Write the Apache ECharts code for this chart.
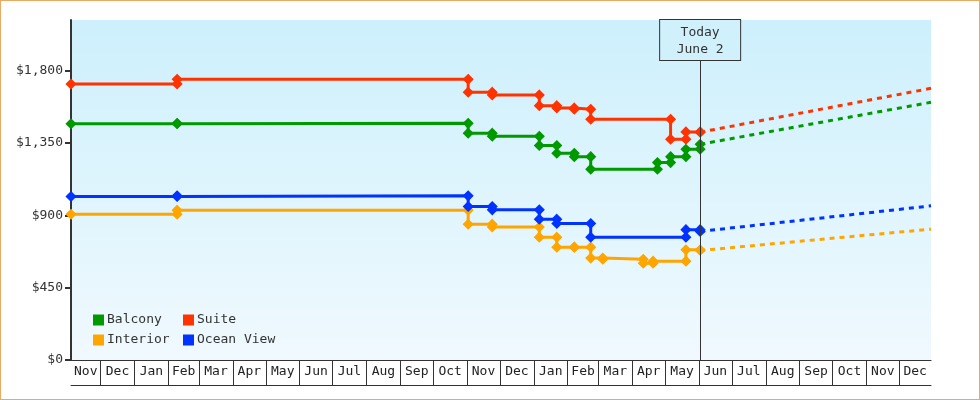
<!DOCTYPE html>
<html>
<head>
<meta charset="utf-8">
<title>Cabin prices</title>
<script src="https://cdn.jsdelivr.net/npm/echarts@6/dist/echarts.min.js"></script>
<style>
html, body { margin: 0; padding: 0; background: #fff; }
#wrap { position: relative; width: 980px; height: 400px; }
#chart { position: absolute; left: 0; top: 0; width: 980px; height: 400px; }
#frame { position: absolute; left: 0; top: 0; width: 980px; height: 400px; box-sizing: border-box; border: 1px solid #e9aa66; pointer-events: none; }
</style>
</head>
<body>
<div id="wrap"><div id="chart"></div><div id="frame"></div></div>
<script>
// axis range and the "today" marker
const AXIS_START = '2021-11-04';
const AXIS_END = '2023-12-30';
const TODAY = '2023-06-02';
const TODAY_LABEL = 'Today\nJune 2';
const TODAY_LINE_TOP = 1866;
const Y_MAX = 2115;

const monthNames = ['Jan', 'Feb', 'Mar', 'Apr', 'May', 'Jun', 'Jul', 'Aug', 'Sep', 'Oct', 'Nov', 'Dec'];
const yTicks = [0, 450, 900, 1350, 1800];

// price history: [date the price took effect, price]
const balcony = [
    ['2021-11-04', 1470], ['2022-02-09', 1472], ['2022-11-02', 1411], ['2022-11-24', 1392],
    ['2023-01-06', 1334], ['2023-01-22', 1286], ['2023-02-07', 1265], ['2023-02-22', 1187],
    ['2023-04-24', 1228], ['2023-05-06', 1265], ['2023-05-20', 1311], ['2023-06-02', 1342]
];
const suite = [
    ['2021-11-04', 1717], ['2022-02-09', 1746], ['2022-11-02', 1666], ['2022-11-24', 1649],
    ['2023-01-06', 1582], ['2023-01-22', 1568], ['2023-02-07', 1560], ['2023-02-22', 1498],
    ['2023-05-06', 1373], ['2023-05-20', 1419], ['2023-06-02', 1417]
];
const interior = [
    ['2021-11-04', 907], ['2022-02-09', 932], ['2022-11-02', 845], ['2022-11-24', 827],
    ['2023-01-06', 764], ['2023-01-22', 702], ['2023-02-07', 702], ['2023-02-22', 634],
    ['2023-03-05', 627], ['2023-04-11', 602], ['2023-04-20', 615], ['2023-05-20', 686],
    ['2023-06-02', 681]
];
const oceanView = [
    ['2021-11-04', 1017], ['2022-02-09', 1021], ['2022-11-02', 955], ['2022-11-24', 934],
    ['2023-01-06', 876], ['2023-01-22', 849], ['2023-02-22', 764], ['2023-05-20', 811],
    ['2023-06-02', 800]
];

// projected prices after today
const balconyForecast = [['2023-06-02', 1342], ['2023-12-30', 1603]];
const suiteForecast = [['2023-06-02', 1417], ['2023-12-30', 1690]];
const interiorForecast = [['2023-06-02', 681], ['2023-12-30', 814]];
const oceanViewForecast = [['2023-06-02', 800], ['2023-12-30', 959]];

const colors = {
    'Balcony': '#009900',
    'Suite': '#ff3300',
    'Interior': '#ffa500',
    'Ocean View': '#0033ff'
};

const FONT = '"DejaVu Sans Mono", "Liberation Mono", monospace';

function toTime(s) {
    const p = s.split('-').map(Number);
    return new Date(p[0], p[1] - 1, p[2]).getTime();
}

// every price change gets a point at the old and at the new price
function stepPoints(rows) {
    const pts = [];
    rows.forEach((r, i) => {
        const t = toTime(r[0]);
        if (i > 0) {
            pts.push([t, rows[i - 1][1]]);
        }
        pts.push([t, r[1]]);
    });
    return pts;
}

const tMin = toTime(AXIS_START);
const tMax = toTime(AXIS_END);

// month cell borders and the centre of each (clipped) month cell
const monthStarts = [];
const monthMids = [];
let cur = new Date(new Date(tMin).getFullYear(), new Date(tMin).getMonth(), 1);
while (cur.getTime() < tMax) {
    const next = new Date(cur.getFullYear(), cur.getMonth() + 1, 1);
    const a = Math.max(cur.getTime(), tMin);
    const b = Math.min(next.getTime(), tMax);
    monthMids.push((a + b) / 2);
    if (next.getTime() < tMax) {
        monthStarts.push(next.getTime());
    }
    cur = next;
}

function money(v) {
    return '$' + String(v).replace(/\B(?=(\d{3})+(?!\d))/g, ',');
}

const history = [
    { name: 'Balcony', rows: balcony, forecast: balconyForecast },
    { name: 'Suite', rows: suite, forecast: suiteForecast },
    { name: 'Interior', rows: interior, forecast: interiorForecast },
    { name: 'Ocean View', rows: oceanView, forecast: oceanViewForecast }
];

const series = [];
history.forEach((h, i) => {
    const s = {
        name: h.name,
        type: 'line',
        data: stepPoints(h.rows),
        symbol: 'diamond',
        symbolSize: 9,
        lineStyle: { width: 3, color: colors[h.name] },
        itemStyle: { color: colors[h.name], borderColor: colors[h.name], borderWidth: 1.5 },
        emphasis: { disabled: true }
    };
    if (i === 0) {
        s.markLine = {
            silent: true,
            symbol: ['none', 'none'],
            lineStyle: { color: '#333', width: 1, type: 'solid' },
            label: {
                show: true,
                position: 'end',
                distance: 0,
                formatter: TODAY_LABEL,
                fontFamily: FONT,
                fontSize: 13,
                color: '#333',
                lineHeight: 17,
                width: 80,
                align: 'center',
                padding: [4, 0, 2, 0],
                backgroundColor: '#d0f1fc',
                borderColor: '#333',
                borderWidth: 1
            },
            data: [[
                { coord: [toTime(TODAY), 0] },
                { coord: [toTime(TODAY), TODAY_LINE_TOP] }
            ]]
        };
    }
    series.push(s);
});
history.forEach(h => {
    series.push({
        name: h.name,
        type: 'line',
        data: h.forecast.map(r => [toTime(r[0]), r[1]]),
        symbol: 'none',
        lineStyle: { width: 3, color: colors[h.name], type: [5, 5] },
        itemStyle: { color: colors[h.name] },
        emphasis: { disabled: true }
    });
});

const chart = echarts.init(document.getElementById('chart'));
chart.setOption({
    animation: false,
    backgroundColor: 'transparent',
    grid: {
        left: 71,
        right: 49,
        top: 20,
        bottom: 40,
        show: true,
        borderWidth: 0,
        backgroundColor: new echarts.graphic.LinearGradient(0, 0, 0, 1, [
            { offset: 0, color: '#cdf0fc' },
            { offset: 1, color: '#f0f9fe' }
        ])
    },
    legend: {
        data: ['Balcony', 'Suite', 'Interior', 'Ocean View'],
        left: 93,
        top: 310,
        width: 185,
        padding: 0,
        orient: 'horizontal',
        icon: 'rect',
        itemWidth: 11,
        itemHeight: 11,
        itemGap: 0,
        selectedMode: false,
        itemStyle: { borderWidth: 0 },
        textStyle: {
            fontFamily: FONT,
            fontSize: 13,
            color: '#333',
            width: 76,
            lineHeight: 20,
            padding: [0, 0, 0, -2]
        }
    },
    xAxis: [
        {
            type: 'value',
            min: tMin,
            max: tMax,
            position: 'bottom',
            axisLine: { show: true, lineStyle: { color: '#333', width: 1 } },
            axisTick: {
                show: true,
                customValues: monthStarts,
                length: 25,
                lineStyle: { color: '#333', width: 1 }
            },
            axisLabel: {
                customValues: monthMids,
                margin: 5,
                fontFamily: FONT,
                fontSize: 13,
                color: '#222',
                formatter: v => monthNames[new Date(v).getMonth()]
            },
            splitLine: { show: false },
            axisPointer: { show: false }
        },
        {
            type: 'value',
            min: tMin,
            max: tMax,
            position: 'bottom',
            offset: 25,
            axisLine: { show: true, lineStyle: { color: '#333', width: 1 } },
            axisTick: { show: false },
            axisLabel: { show: false },
            splitLine: { show: false }
        }
    ],
    yAxis: {
        type: 'value',
        min: 0,
        max: Y_MAX,
        axisLine: { show: true, lineStyle: { color: '#333', width: 2 } },
        axisTick: {
            show: true,
            customValues: yTicks,
            length: 6,
            lineStyle: { color: '#333', width: 2 }
        },
        axisLabel: {
            customValues: yTicks,
            margin: 8,
            fontFamily: FONT,
            fontSize: 13,
            color: '#333',
            formatter: money
        },
        splitLine: { show: false }
    },
    series: series
});
</script>
</body>
</html>
